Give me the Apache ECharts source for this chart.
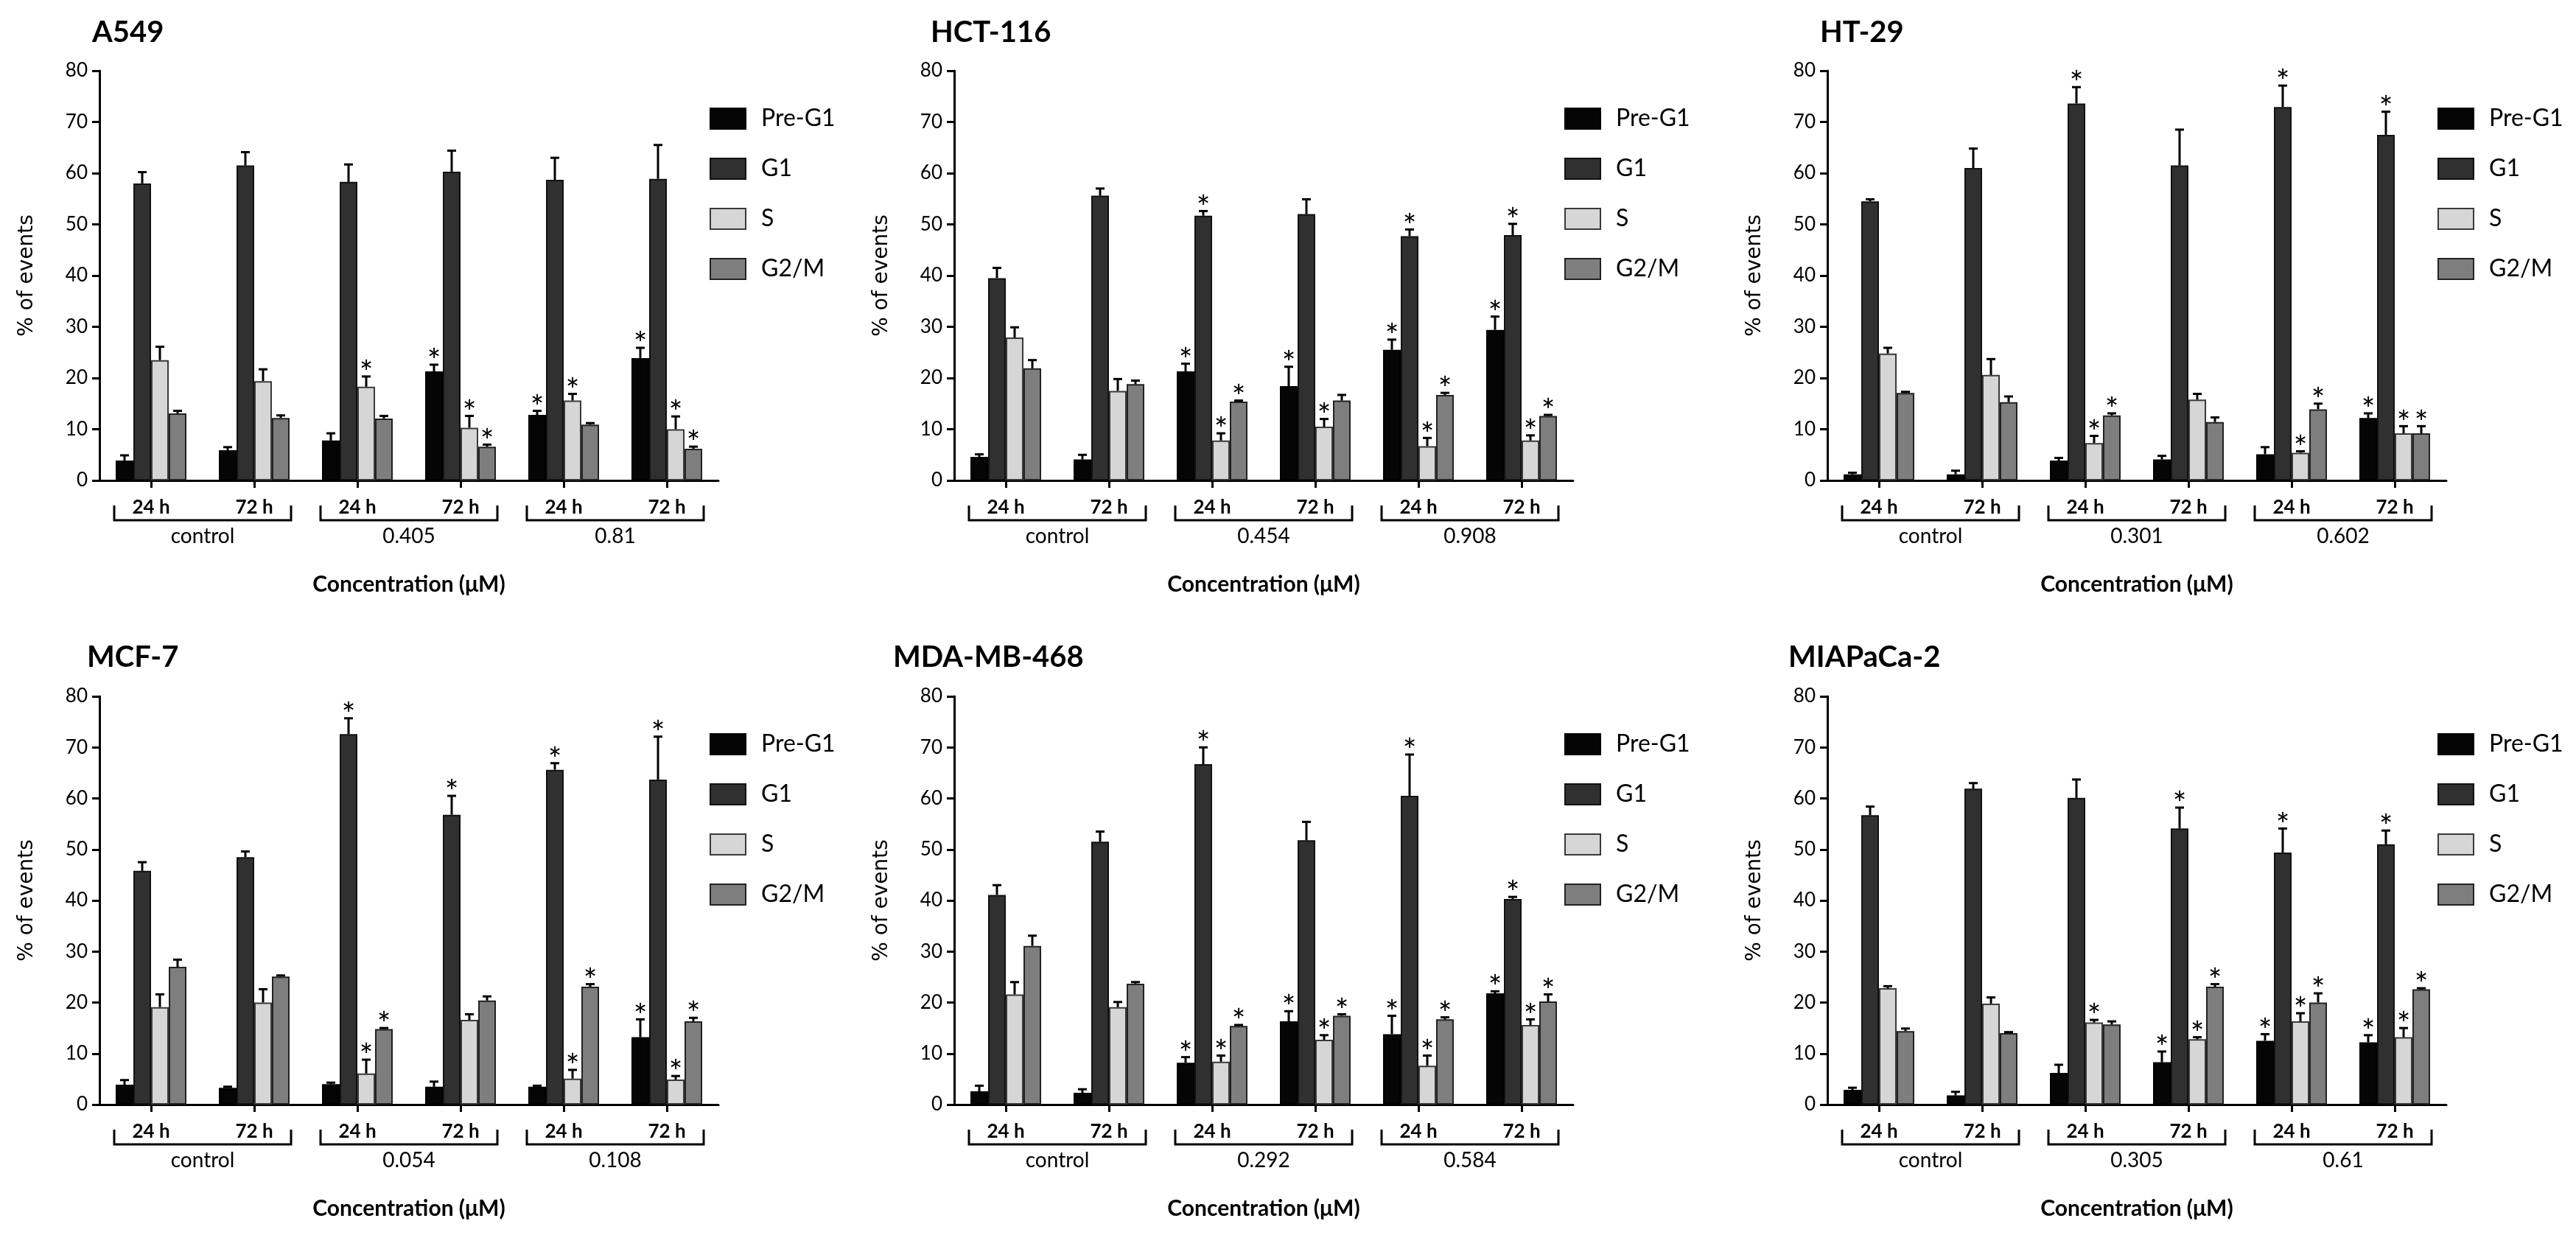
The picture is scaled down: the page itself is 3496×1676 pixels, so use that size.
<!DOCTYPE html>
<html><head><meta charset="utf-8">
<script src="https://cdn.jsdelivr.net/npm/echarts@6/dist/echarts.min.js"></script>
<style>html,body{margin:0;padding:0;background:#fff}#c{width:3496px;height:1676px}</style>
</head><body><div id="c"></div>
<script>
// ---------- DATA ----------
const timeLabels = ['24 h', '72 h', '24 h', '72 h', '24 h', '72 h'];
const phaseNames = ['Pre-G1', 'G1', 'S', 'G2/M'];
const xAxisTitle = 'Concentration (\u03bcM)';
const yAxisTitle = '% of events';

// order inside each *_mean / *_err / *_sig: [Pre-G1, G1, S, G2/M]
const A549_groups = ['control', '0.405', '0.81'];
const A549_mean = [[3.9, 5.9, 7.8, 21.3, 12.8, 23.9], [58.0, 61.5, 58.3, 60.3, 58.7, 58.9], [23.5, 19.4, 18.3, 10.3, 15.6, 10.0], [13.1, 12.2, 12.1, 6.6, 10.9, 6.2]];
const A549_err = [[1.0, 0.6, 1.4, 1.3, 0.8, 2.0], [2.2, 2.6, 3.4, 4.1, 4.3, 6.6], [2.6, 2.3, 2.0, 2.3, 1.3, 2.5], [0.5, 0.5, 0.5, 0.4, 0.3, 0.4]];
const A549_sig = [[0, 0, 0, 1, 1, 1], [0, 0, 0, 0, 0, 0], [0, 0, 1, 1, 1, 1], [0, 0, 0, 1, 0, 1]];

const HCT116_groups = ['control', '0.454', '0.908'];
const HCT116_mean = [[4.6, 4.1, 21.3, 18.4, 25.5, 29.4], [39.5, 55.6, 51.7, 52.0, 47.7, 47.9], [27.9, 17.5, 7.8, 10.5, 6.7, 7.8], [21.9, 18.8, 15.4, 15.6, 16.7, 12.6]];
const HCT116_err = [[0.5, 0.9, 1.5, 3.8, 2.0, 2.6], [2.0, 1.4, 0.9, 2.9, 1.3, 2.2], [2.0, 2.3, 1.4, 1.5, 1.6, 1.0], [1.6, 0.7, 0.2, 1.1, 0.4, 0.2]];
const HCT116_sig = [[0, 0, 1, 1, 1, 1], [0, 0, 1, 0, 1, 1], [0, 0, 1, 1, 1, 1], [0, 0, 1, 0, 1, 1]];

const HT29_groups = ['control', '0.301', '0.602'];
const HT29_mean = [[1.2, 1.2, 3.9, 4.1, 5.1, 12.2], [54.5, 61.0, 73.6, 61.5, 72.9, 67.5], [24.8, 20.6, 7.3, 15.8, 5.4, 9.2], [17.1, 15.3, 12.7, 11.4, 13.9, 9.2]];
const HT29_err = [[0.3, 0.7, 0.5, 0.7, 1.4, 0.9], [0.4, 3.8, 3.2, 7.0, 4.2, 4.5], [1.1, 3.1, 1.4, 1.1, 0.3, 1.4], [0.2, 1.1, 0.4, 0.9, 1.1, 1.4]];
const HT29_sig = [[0, 0, 0, 0, 0, 1], [0, 0, 1, 0, 1, 1], [0, 0, 1, 0, 1, 1], [0, 0, 1, 0, 1, 1]];

const MCF7_groups = ['control', '0.054', '0.108'];
const MCF7_mean = [[3.9, 3.3, 4.0, 3.5, 3.5, 13.2], [45.8, 48.5, 72.6, 56.8, 65.6, 63.7], [19.1, 20.0, 6.1, 16.6, 5.1, 4.9], [27.0, 25.1, 14.8, 20.4, 23.1, 16.3]];
const MCF7_err = [[0.9, 0.2, 0.3, 1.0, 0.2, 3.5], [1.7, 1.1, 3.1, 3.7, 1.3, 8.4], [2.5, 2.6, 2.7, 1.1, 1.7, 0.7], [1.4, 0.2, 0.2, 0.8, 0.5, 0.7]];
const MCF7_sig = [[0, 0, 0, 0, 0, 1], [0, 0, 1, 1, 1, 1], [0, 0, 1, 0, 1, 1], [0, 0, 1, 0, 1, 1]];

const MDA468_groups = ['control', '0.292', '0.584'];
const MDA468_mean = [[2.6, 2.3, 8.2, 16.3, 13.8, 21.8], [41.1, 51.5, 66.7, 51.8, 60.5, 40.3], [21.6, 19.1, 8.4, 12.7, 7.6, 15.6], [31.1, 23.7, 15.4, 17.4, 16.7, 20.2]];
const MDA468_err = [[1.1, 0.7, 1.1, 2.0, 3.6, 0.4], [1.9, 2.0, 3.3, 3.6, 8.1, 0.4], [2.4, 1.0, 1.2, 0.9, 2.0, 1.1], [2.0, 0.3, 0.2, 0.3, 0.4, 1.4]];
const MDA468_sig = [[0, 0, 1, 1, 1, 1], [0, 0, 1, 0, 1, 1], [0, 0, 1, 1, 1, 1], [0, 0, 1, 1, 1, 1]];

const MIA_groups = ['control', '0.305', '0.61'];
const MIA_mean = [[2.9, 1.8, 6.2, 8.3, 12.5, 12.2], [56.7, 61.9, 60.1, 54.1, 49.4, 51.0], [22.8, 19.8, 16.1, 12.8, 16.3, 13.2], [14.4, 14.0, 15.7, 23.1, 20.0, 22.6]];
const MIA_err = [[0.4, 0.7, 1.6, 2.1, 1.3, 1.4], [1.7, 1.1, 3.6, 4.1, 4.7, 2.7], [0.4, 1.2, 0.5, 0.4, 1.6, 1.8], [0.5, 0.2, 0.6, 0.5, 1.8, 0.2]];
const MIA_sig = [[0, 0, 0, 1, 1, 1], [0, 0, 0, 1, 1, 1], [0, 0, 1, 1, 1, 1], [0, 0, 0, 1, 1, 1]];

const panelTitles = ['A549', 'HCT-116', 'HT-29', 'MCF-7', 'MDA-MB-468', 'MIAPaCa-2'];
const panelGroups = [A549_groups, HCT116_groups, HT29_groups, MCF7_groups, MDA468_groups, MIA_groups];
const panelMeans = [A549_mean, HCT116_mean, HT29_mean, MCF7_mean, MDA468_mean, MIA_mean];
const panelErrs = [A549_err, HCT116_err, HT29_err, MCF7_err, MDA468_err, MIA_err];
const panelSigs = [A549_sig, HCT116_sig, HT29_sig, MCF7_sig, MDA468_sig, MIA_sig];

// ---------- LAYOUT / STYLE ----------
const colLeft = [135, 1295, 2480];
const rowTop = [96, 945];
const rowH = [556, 554];
const gridW = 840;
const titleLeft = [125, 1263, 2470, 118, 1212, 2427];
const titleTop = [24, 872];
const BAR_W = 24;
const phaseColors = ['#050505', '#303030', '#d6d6d6', '#7e7e7e'];
const phaseBorders = ['#000', '#111', '#3a3a3a', '#222'];
const FONT = 'Lato';

const grids = [], xAxes = [], yAxes = [], legends = [], titles = [], series = [];

for (let k = 0; k < 6; k++) {
  const col = k % 3, row = Math.floor(k / 3);
  grids.push({ left: colLeft[col], top: rowTop[row], width: gridW, height: rowH[row], containLabel: false });
  titles.push({ text: panelTitles[k], left: titleLeft[k], top: titleTop[row], padding: 0,
    textStyle: { fontSize: 40, fontWeight: 'bold', fontFamily: FONT, color: '#000' } });
  // main category axis (time)
  xAxes.push({ type: 'category', gridIndex: k, data: timeLabels, position: 'bottom',
    axisLine: { show: true, lineStyle: { color: '#000', width: 3 } },
    axisTick: { show: true, alignWithLabel: true, length: 10, lineStyle: { color: '#000', width: 3 } },
    axisLabel: { interval: 0, margin: 24, fontSize: 26, fontWeight: 'bold', fontFamily: FONT, color: '#000' },
    splitLine: { show: false } });
  // group (concentration) axis
  xAxes.push({ type: 'category', gridIndex: k, data: panelGroups[k], position: 'bottom', offset: 52,
    axisLine: { show: false }, axisTick: { show: false },
    axisLabel: { interval: 0, margin: 10, fontSize: 28, fontFamily: FONT, color: '#000' },
    name: xAxisTitle, nameLocation: 'middle', nameGap: 74,
    nameTextStyle: { fontSize: 30, fontWeight: 'bold', fontFamily: FONT, color: '#000' },
    splitLine: { show: false } });
  yAxes.push({ type: 'value', gridIndex: k, min: 0, max: 80, interval: 10,
    axisLine: { show: true, lineStyle: { color: '#000', width: 3 } },
    axisTick: { show: true, length: 10, lineStyle: { color: '#000', width: 3 } },
    axisLabel: { margin: 16, fontSize: 26, fontFamily: FONT, color: '#000' },
    splitLine: { show: false },
    name: yAxisTitle, nameLocation: 'middle', nameRotate: 90, nameGap: 84,
    nameTextStyle: { fontSize: 28, fontFamily: 'DejaVu Sans', color: '#000' } });
  legends.push({ orient: 'vertical', left: colLeft[col] + 828, top: rowTop[row] + 49, padding: 0,
    itemWidth: 48, itemHeight: 28, itemGap: 36, icon: 'rect', selectedMode: false,
    data: phaseNames,
    textStyle: { fontSize: 32, fontFamily: FONT, color: '#000', padding: [0, 0, 0, 16] } });

  const mean = panelMeans[k], err = panelErrs[k], sig = panelSigs[k];
  for (let j = 0; j < 4; j++) {
    series.push({ type: 'bar', name: phaseNames[j], xAxisIndex: 2 * k, yAxisIndex: k,
      data: mean[j], barWidth: BAR_W, barGap: '0%', silent: true,
      itemStyle: { color: phaseColors[j], borderColor: phaseBorders[j], borderWidth: 2 } });
  }
  // error bars + significance stars
  const errData = [];
  for (let j = 0; j < 4; j++) for (let i = 0; i < 6; i++) errData.push([i, j, mean[j][i], err[j][i], sig[j][i]]);
  series.push({ type: 'custom', name: 'err' + k, xAxisIndex: 2 * k, yAxisIndex: k, z: 5, silent: true,
    encode: { x: 0, y: 2 }, data: errData,
    renderItem: function (params, api) {
      const i = api.value(0), j = api.value(1), m = api.value(2), e = api.value(3), s = api.value(4);
      const base = api.coord([i, m]);
      const top = api.coord([i, m + e]);
      const x = base[0] + (j - 1.5) * BAR_W;
      const ch = [
        { type: 'line', shape: { x1: x, y1: base[1], x2: x, y2: top[1] }, style: { stroke: '#000', lineWidth: 3 } },
        { type: 'line', shape: { x1: x - 6, y1: top[1], x2: x + 6, y2: top[1] }, style: { stroke: '#000', lineWidth: 3 } }
      ];
      if (s) ch.push({ type: 'text', style: { text: '*', x: x, y: top[1] - 4, align: 'center', verticalAlign: 'middle',
        fontSize: 44, fontFamily: FONT, fill: '#000' } });
      return { type: 'group', children: ch };
    } });
  // group brackets
  series.push({ type: 'custom', name: 'br' + k, xAxisIndex: 2 * k, yAxisIndex: k, silent: true,
    encode: { x: [0, 1], y: 2 }, data: [[0, 1, 0], [2, 3, 0], [4, 5, 0]],
    renderItem: function (params, api) {
      const a = api.coord([api.value(0), 0]), b = api.coord([api.value(1), 0]);
      const xl = a[0] - 50, xr = b[0] + 50, y = a[1];
      return { type: 'polyline', shape: { points: [[xl, y + 34], [xl, y + 54], [xr, y + 54], [xr, y + 34]] },
        style: { stroke: '#000', lineWidth: 3, fill: null } };
    } });
}

const chart = echarts.init(document.getElementById('c'), null, { renderer: 'canvas' });
chart.setOption({
  backgroundColor: '#fff', animation: false,
  title: titles, grid: grids, xAxis: xAxes, yAxis: yAxes, legend: legends, series: series
});
</script></body></html>
